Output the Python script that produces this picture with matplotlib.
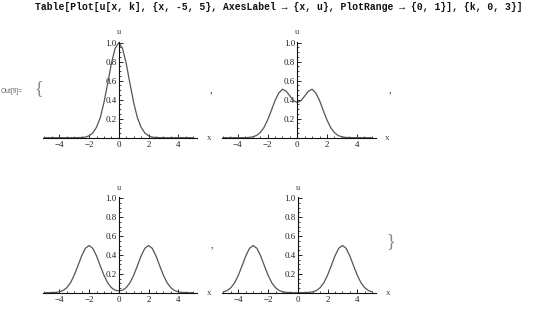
import matplotlib
matplotlib.use("Agg")
import matplotlib.pyplot as plt
from matplotlib.ticker import MultipleLocator, FixedLocator

# ---- data (u values on a shared x grid, step 0.25) ----
x_grid = [-5.0, -4.75, -4.5, -4.25, -4.0, -3.75, -3.5, -3.25, -3.0, -2.75,
          -2.5, -2.25, -2.0, -1.75, -1.5, -1.25, -1.0, -0.75, -0.5, -0.25,
          0.0, 0.25, 0.5, 0.75, 1.0, 1.25, 1.5, 1.75, 2.0, 2.25,
          2.5, 2.75, 3.0, 3.25, 3.5, 3.75, 4.0, 4.25, 4.5, 4.75, 5.0]

u_k0 = [0, 0, 0, 0, 0, 0, 0, 0, 0, 0.001,
        0.002, 0.006, 0.02, 0.05, 0.11, 0.21, 0.37, 0.57, 0.78, 0.94,
        1.0, 0.94, 0.78, 0.57, 0.37, 0.21, 0.11, 0.05, 0.02, 0.006,
        0.002, 0.001, 0, 0, 0, 0, 0, 0, 0, 0, 0]

u_k1 = [0, 0, 0, 0, 0, 0, 0.001, 0.003, 0.009, 0.023,
        0.053, 0.105, 0.185, 0.285, 0.39, 0.47, 0.51, 0.49, 0.44, 0.39,
        0.37, 0.39, 0.44, 0.49, 0.51, 0.47, 0.39, 0.285, 0.185, 0.105,
        0.053, 0.023, 0.009, 0.003, 0.001, 0, 0, 0, 0, 0, 0]

u_k2 = [0, 0, 0.001, 0.003, 0.009, 0.023, 0.053, 0.105, 0.185, 0.285,
        0.39, 0.47, 0.5, 0.47, 0.39, 0.285, 0.185, 0.105, 0.054, 0.026,
        0.02, 0.026, 0.054, 0.105, 0.185, 0.285, 0.39, 0.47, 0.5, 0.47,
        0.39, 0.285, 0.185, 0.105, 0.053, 0.023, 0.009, 0.003, 0.001, 0, 0]

u_k3 = [0.009, 0.023, 0.053, 0.105, 0.185, 0.285, 0.39, 0.47, 0.5, 0.47,
        0.39, 0.285, 0.185, 0.105, 0.053, 0.023, 0.009, 0.003, 0.001, 0,
        0, 0, 0.001, 0.003, 0.009, 0.023, 0.053, 0.105, 0.185, 0.285,
        0.39, 0.47, 0.5, 0.47, 0.39, 0.285, 0.185, 0.105, 0.053, 0.023, 0.009]

series = [u_k0, u_k1, u_k2, u_k3]
x_ticks = [-4, -2, 0, 2, 4]
x_tick_labels = ["\u22124", "\u22122", "0", "2", "4"]
y_ticks = [0.2, 0.4, 0.6, 0.8, 1.0]
y_tick_labels = ["0.2", "0.4", "0.6", "0.8", "1.0"]
command = "Table[Plot[u[x, k], {x, -5, 5}, AxesLabel \u2192 {x, u}, PlotRange \u2192 {0, 1}], {k, 0, 3}]"

W, H = 540, 309
fig = plt.figure(figsize=(W / 100, H / 100), dpi=100)
fig.patch.set_facecolor("white")

serif = ["Liberation Serif", "DejaVu Serif"]
LINE = "#555555"
TXT = "#222222"

# (left px, right px, x-axis y px, px per unit y)
panels = [(43, 197, 137.7, 95.0), (221.5, 375.5, 137.7, 95.0),
          (43, 197, 292.7, 94.4), (222, 376, 292.7, 94.4)]
YTOP = 1.01

for (l, r, ya, pxu), u in zip(panels, series):
    top = ya - YTOP * pxu
    ax = fig.add_axes([l / W, 1 - ya / H, (r - l) / W, (ya - top) / H])
    ax.set_xlim(-5.1, 5.26)
    ax.set_ylim(0, YTOP)
    ax.patch.set_alpha(0)
    ax.plot(x_grid, u, color=LINE, lw=0.9, solid_joinstyle="round", clip_on=False)
    for s in ["top", "right"]:
        ax.spines[s].set_visible(False)
    ax.spines["left"].set_position(("data", 0))
    ax.spines["left"].set_linewidth(0.8)
    ax.spines["bottom"].set_linewidth(0.8)
    ax.spines["left"].set_color("#111111")
    ax.spines["bottom"].set_color("#111111")
    ax.xaxis.set_major_locator(FixedLocator(x_ticks))
    ax.set_xticklabels(x_tick_labels, fontfamily=serif, fontsize=6.5, color=TXT)
    ax.xaxis.set_minor_locator(MultipleLocator(0.5))
    ax.yaxis.set_major_locator(FixedLocator(y_ticks))
    ax.set_yticklabels(y_tick_labels, fontfamily=serif, fontsize=6.5, color=TXT)
    ax.yaxis.set_minor_locator(MultipleLocator(0.05))
    ax.tick_params(axis="x", which="major", direction="in", length=3, width=0.6, pad=2.5)
    ax.tick_params(axis="x", which="minor", direction="in", length=1.5, width=0.5)
    ax.tick_params(axis="y", which="major", direction="in", length=3, width=0.6, pad=1.5)
    ax.tick_params(axis="y", which="minor", direction="in", length=1.5, width=0.5)
    # axes labels (Mathematica style)
    ax.annotate("x", xy=(1, 0), xycoords="axes fraction", xytext=(7, 0),
                textcoords="offset points", ha="left", va="center",
                fontfamily=serif, fontsize=6.5, color="#444444")
    ax.annotate("u", xy=(0, YTOP), xycoords=("data", "data"), xytext=(0, 4),
                textcoords="offset points", ha="center", va="bottom",
                fontfamily=serif, fontsize=6, color="#444444")

# command line
fig.text(35 / W, 1 - 7.5 / H, command, ha="left", va="center",
         fontfamily=["Liberation Mono", "DejaVu Sans Mono"], fontsize=7,
         fontweight="bold", color="#111111")

# Out[9]= label and list punctuation
fig.text(1 / W, 1 - 91.5 / H, "Out[9]=", ha="left", va="center",
         fontfamily=["Liberation Sans", "DejaVu Sans"], fontsize=4.8, color="#666666")
fig.text(39 / W, 1 - 89 / H, "{", ha="center", va="center",
         fontfamily=serif, fontsize=13, color="#888888")
for (px, py) in [(211, 90), (390, 90), (212, 245)]:
    fig.text(px / W, 1 - py / H, ",", ha="center", va="center",
             fontfamily=serif, fontsize=7, color="#222222")
fig.text(391 / W, 1 - 242 / H, "}", ha="center", va="center",
         fontfamily=serif, fontsize=13, color="#888888")

fig.savefig("out.png", dpi=100, facecolor="white")
